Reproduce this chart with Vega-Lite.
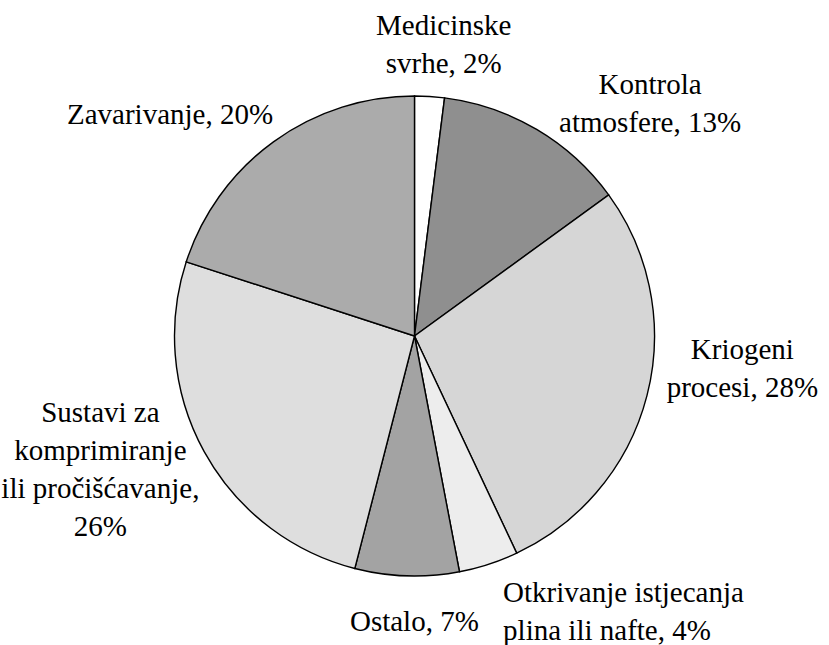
{
  "$schema": "https://vega.github.io/schema/vega-lite/v6.json",
  "width": 829,
  "height": 618,
  "padding": {"top": 27, "bottom": 0, "left": 0, "right": 0},
  "autosize": {"type": "none"},
  "background": "white",
  "view": {"stroke": null},
  "config": {"text": {"font": "Liberation Serif", "fontSize": 29, "lineHeight": 38, "lineBreak": "\n", "baseline": "middle", "fill": "black"}},
  "data": {
    "values": [
      {"idx": 1, "cat": "Medicinske svrhe", "value": 2, "label": "Medicinske\nsvrhe, 2%"},
      {"idx": 2, "cat": "Kontrola atmosfere", "value": 13, "label": "Kontrola\natmosfere, 13%"},
      {"idx": 3, "cat": "Kriogeni procesi", "value": 28, "label": "Kriogeni\nprocesi, 28%"},
      {"idx": 4, "cat": "Otkrivanje istjecanja plina ili nafte", "value": 4, "label": "Otkrivanje istjecanja\nplina ili nafte, 4%"},
      {"idx": 5, "cat": "Ostalo", "value": 7, "label": "Ostalo, 7%"},
      {"idx": 6, "cat": "Sustavi za komprimiranje ili pročišćavanje", "value": 26, "label": "Sustavi za\nkomprimiranje\nili pročišćavanje,\n26%"},
      {"idx": 7, "cat": "Zavarivanje", "value": 20, "label": "Zavarivanje, 20%"}
    ]
  },
  "encoding": {
    "theta": {"field": "value", "type": "quantitative", "stack": true},
    "order": {"field": "idx", "type": "quantitative"}
  },
  "layer": [
    {
      "mark": {"type": "arc", "outerRadius": 240, "stroke": "black", "strokeWidth": 1.4},
      "encoding": {
        "color": {
          "field": "cat",
          "type": "nominal",
          "legend": null,
          "scale": {
            "domain": ["Medicinske svrhe", "Kontrola atmosfere", "Kriogeni procesi", "Otkrivanje istjecanja plina ili nafte", "Ostalo", "Sustavi za komprimiranje ili pročišćavanje", "Zavarivanje"],
            "range": ["#ffffff", "#8f8f8f", "#d6d6d6", "#ededed", "#a3a3a3", "#dedede", "#ababab"]
          }
        }
      }
    },
    {
      "mark": {"type": "text", "radius": 290, "dx": 11, "dy": -21, "font": "Liberation Serif", "fontSize": 29, "lineHeight": 38, "lineBreak": "\n", "align": "center", "baseline": "middle", "fill": "black"},
      "encoding": {"detail": {"field": "cat"}, "text": {"condition": {"test": "datum.idx == 1", "field": "label"}, "value": ""}}
    },
    {
      "mark": {"type": "text", "radius": 290, "dx": 88, "dy": -1, "font": "Liberation Serif", "fontSize": 29, "lineHeight": 38, "lineBreak": "\n", "align": "center", "baseline": "middle", "fill": "black"},
      "encoding": {"detail": {"field": "cat"}, "text": {"condition": {"test": "datum.idx == 2", "field": "label"}, "value": ""}}
    },
    {
      "mark": {"type": "text", "radius": 290, "dx": 47, "dy": -58, "font": "Liberation Serif", "fontSize": 29, "lineHeight": 38, "lineBreak": "\n", "align": "center", "baseline": "middle", "fill": "black"},
      "encoding": {"detail": {"field": "cat"}, "text": {"condition": {"test": "datum.idx == 3", "field": "label"}, "value": ""}}
    },
    {
      "mark": {"type": "text", "radius": 290, "dx": -1, "dy": -19, "font": "Liberation Serif", "fontSize": 29, "lineHeight": 38, "lineBreak": "\n", "align": "left", "baseline": "middle", "fill": "black"},
      "encoding": {"detail": {"field": "cat"}, "text": {"condition": {"test": "datum.idx == 4", "field": "label"}, "value": ""}}
    },
    {
      "mark": {"type": "text", "radius": 290, "dx": 9, "dy": -4, "font": "Liberation Serif", "fontSize": 29, "lineHeight": 38, "lineBreak": "\n", "align": "center", "baseline": "middle", "fill": "black"},
      "encoding": {"detail": {"field": "cat"}, "text": {"condition": {"test": "datum.idx == 5", "field": "label"}, "value": ""}}
    },
    {
      "mark": {"type": "text", "radius": 290, "dx": -60, "dy": -63, "font": "Liberation Serif", "fontSize": 29, "lineHeight": 38, "lineBreak": "\n", "align": "center", "baseline": "middle", "fill": "black"},
      "encoding": {"detail": {"field": "cat"}, "text": {"condition": {"test": "datum.idx == 6", "field": "label"}, "value": ""}}
    },
    {
      "mark": {"type": "text", "radius": 290, "dx": -74, "dy": 14, "font": "Liberation Serif", "fontSize": 29, "lineHeight": 38, "lineBreak": "\n", "align": "center", "baseline": "middle", "fill": "black"},
      "encoding": {"detail": {"field": "cat"}, "text": {"condition": {"test": "datum.idx == 7", "field": "label"}, "value": ""}}
    }
  ]
}
